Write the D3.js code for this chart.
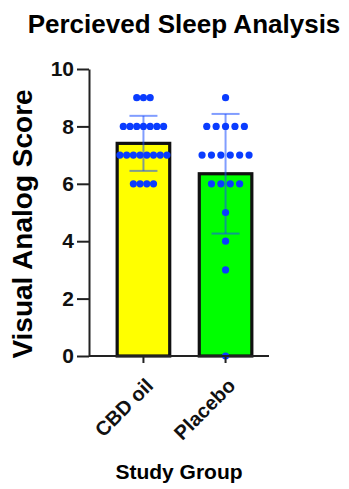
<!DOCTYPE html>
<html>
<head>
<meta charset="utf-8">
<script src="https://cdn.jsdelivr.net/npm/d3@7"></script>
<style>
  body { margin: 0; background: #fff; }
  text { font-family: "Liberation Sans", Arial, sans-serif; font-weight: bold; }
</style>
</head>
<body>
<script>
var width = 349,
    height = 489;

// Scores per group
var groups = ['CBD oil', 'Placebo'];
var cbdScores = [9, 9, 9,
  8, 8, 8, 8, 8, 8, 8,
  7, 7, 7, 7, 7, 7, 7, 7,
  6, 6, 6, 6];
var placeboScores = [9,
  8, 8, 8, 8, 8,
  7, 7, 7, 7, 7, 7,
  6, 6, 6, 6,
  5, 4, 3, 0];
var barColors = ['#ffff00', '#00ff00'];
var yTicks = [0, 2, 4, 6, 8, 10];

var scores = [cbdScores, placeboScores];

var svg = d3.select('body').append('svg')
    .attr('width', width)
    .attr('height', height);

var y = d3.scaleLinear()
    .domain([0, 10])
    .range([356, 69]);

var x = d3.scaleBand()
    .domain(groups)
    .range([95, 274])
    .paddingInner(0.36)
    .paddingOuter(0.27);

// Title
svg.append('text')
    .attr('x', 184)
    .attr('y', 33)
    .attr('text-anchor', 'middle')
    .style('font-size', '26px')
    .text('Percieved Sleep Analysis');

// Bars (mean)
var stats = groups.map(function(g, i) {
  return {
    group: g,
    mean: d3.mean(scores[i]),
    sd: d3.deviation(scores[i]),
    color: barColors[i],
    values: scores[i]
  };
});

svg.append('g').selectAll('rect')
    .data(stats)
    .enter().append('rect')
    .attr('x', function(d) { return x(d.group); })
    .attr('y', function(d) { return y(d.mean); })
    .attr('width', x.bandwidth())
    .attr('height', function(d) { return y(0) - y(d.mean); })
    .attr('fill', function(d) { return d.color; })
    .attr('stroke', '#111')
    .attr('stroke-width', 3.2);

// Error bars (SD)
var eb = svg.append('g')
    .attr('stroke', '#1a4cff')
    .attr('stroke-opacity', 0.55)
    .attr('stroke-width', 2);

stats.forEach(function(d) {
  var cx = x(d.group) + x.bandwidth() / 2;
  eb.append('line')
      .attr('x1', cx).attr('x2', cx)
      .attr('y1', y(d.mean - d.sd)).attr('y2', y(d.mean + d.sd));
  [d.mean - d.sd, d.mean + d.sd].forEach(function(v) {
    eb.append('line')
        .attr('x1', cx - 14).attr('x2', cx + 14)
        .attr('y1', y(v)).attr('y2', y(v));
  });
});

// Dots, spread horizontally per score value
var dots = svg.append('g');
stats.forEach(function(d) {
  var cx = x(d.group) + x.bandwidth() / 2;
  var rows = d3.groups(d.values, function(v) { return v; });
  var maxCount = d3.max(rows, function(r) { return r[1].length; });
  var step = Math.min(9.4, 47 / (maxCount - 1));
  rows.forEach(function(r) {
    var k = r[1].length;
    r[1].forEach(function(v, i) {
      dots.append('circle')
          .attr('cx', cx + (i - (k - 1) / 2) * step)
          .attr('cy', y(v))
          .attr('r', 3.6)
          .attr('fill', '#0a3cff');
    });
  });
});

// Y axis
var yAxis = svg.append('g')
    .attr('transform', 'translate(89,0)')
    .call(d3.axisLeft(y).tickValues(yTicks).tickSize(12).tickPadding(3).tickSizeOuter(0));
yAxis.selectAll('path, line').attr('stroke', '#222').attr('stroke-width', 2);
yAxis.selectAll('text').style('font-size', '21px').attr('fill', '#111')
    .attr('font-family', null);

// X axis
svg.append('line')
    .attr('x1', 89).attr('x2', 269)
    .attr('y1', y(0)).attr('y2', y(0))
    .attr('stroke', '#222').attr('stroke-width', 2);

var xAxis = svg.append('g')
    .attr('transform', 'translate(0,' + y(0) + ')')
    .call(d3.axisBottom(x).tickSize(7).tickSizeOuter(0));
xAxis.select('.domain').remove();
xAxis.selectAll('line').attr('stroke', '#222').attr('stroke-width', 2);
xAxis.selectAll('text')
    .style('font-size', '20px')
    .attr('fill', '#111')
    .attr('font-family', null)
    .attr('text-anchor', 'end')
    .attr('dy', '0.7em')
    .attr('transform', 'translate(-6,14) rotate(-45)');

// Axis titles
svg.append('text')
    .attr('transform', 'translate(32,224) rotate(-90)')
    .attr('text-anchor', 'middle')
    .style('font-size', '28px')
    .text('Visual Analog Score');

svg.append('text')
    .attr('x', 179)
    .attr('y', 479)
    .attr('text-anchor', 'middle')
    .style('font-size', '21px')
    .text('Study Group');
</script>
</body>
</html>
